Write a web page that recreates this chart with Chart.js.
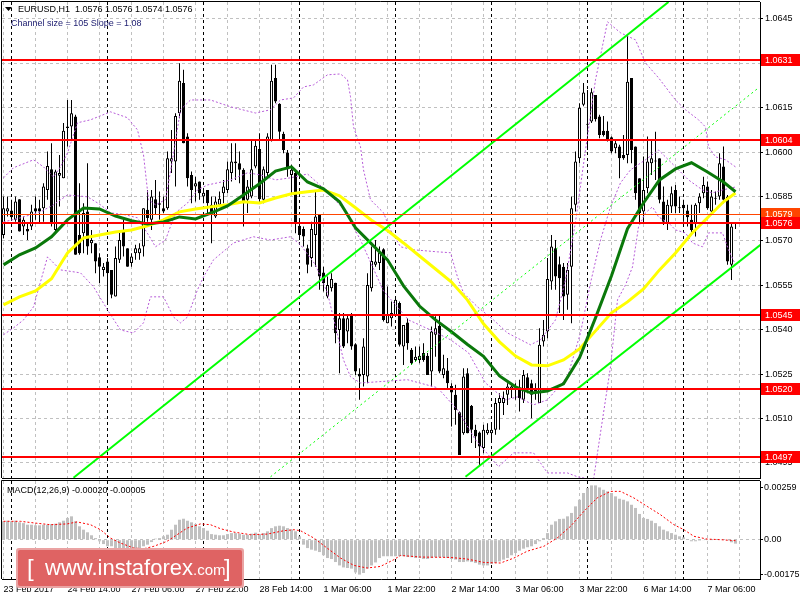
<!DOCTYPE html>
<html>
<head>
<meta charset="utf-8">
<script src="https://cdn.jsdelivr.net/npm/chart.js@4.4.1/dist/chart.umd.min.js"></script>
<style>
  html, body { margin: 0; padding: 0; background: #fff; }
  #wrap { position: relative; width: 800px; height: 600px; overflow: hidden; }
  #main { position: absolute; left: 0; top: 0; }
  #macd { position: absolute; left: 0; top: 480px; }
</style>
</head>
<body>
<div id="wrap">
  <canvas id="main" width="800" height="480"></canvas>
  <canvas id="macd" width="800" height="120"></canvas>
</div>
<script>
// EURUSD H1, 23 Feb 22:00 .. 7 Mar 09:00 (one candle per hour)
const candleOpen = [
  1.05720,1.05799,1.05803,1.05771,1.05841,1.05749,1.05740,1.05749,1.05810,1.05810,
  1.05810,1.05872,1.05942,1.05737,1.05920,1.05912,1.06081,1.06086,1.06120,1.05720,
  1.05726,1.05799,1.05692,1.05692,1.05645,1.05602,1.05630,1.05602,1.05512,1.05636,
  1.05737,1.05675,1.05625,1.05658,1.05658,1.05681,1.05805,1.05771,1.05841,1.05822,
  1.05810,1.05810,1.05968,1.05968,1.06131,1.06233,1.06053,1.05923,1.05884,1.05901,
  1.05850,1.05872,1.05822,1.05782,1.05822,1.05861,1.05872,1.05929,1.05962,1.05962,
  1.05940,1.05839,1.05850,1.05951,1.06010,1.05839,1.05929,1.06041,1.06250,1.06163,
  1.06062,1.05999,1.05923,1.05929,1.05751,1.05740,1.05675,1.05642,1.05720,1.05790,
  1.05593,1.05512,1.05540,1.05559,1.05399,1.05439,1.05394,1.05450,1.05351,1.05251,
  1.05247,1.05242,1.05540,1.05619,1.05625,1.05672,1.05422,1.05439,1.05450,1.05490,
  1.05343,1.05424,1.05332,1.05298,1.05298,1.05321,1.05312,1.05259,1.05383,1.05413,
  1.05247,1.05262,1.05210,1.05180,1.05121,1.05050,1.05253,1.05143,1.05062,1.05053,
  1.05000,1.05050,1.05050,1.05062,1.05152,1.05152,1.05180,1.05197,1.05197,1.05199,
  1.05163,1.05239,1.05219,1.05202,1.05152,1.05360,1.05394,1.05563,1.05675,1.05621,
  1.05613,1.05518,1.05613,1.05822,1.05979,1.06160,1.06092,1.06103,1.06193,1.06120,
  1.06072,1.06072,1.06050,1.06013,1.06019,1.05990,1.05990,1.06250,1.06019,1.05912,
  1.05799,1.05878,1.05962,1.05968,1.05979,1.05833,1.05760,1.05816,1.05872,1.05810,
  1.05822,1.05803,1.05771,1.05760,1.05827,1.05861,1.05884,1.05799,1.05844,1.05850,
  1.05951,1.05850,1.05619,1.05760
];
const candleHigh = [
  1.05850,1.05850,1.05839,1.05850,1.05841,1.05782,1.05758,1.05822,1.05850,1.05839,
  1.05895,1.06002,1.06030,1.05940,1.05990,1.06098,1.06176,1.06176,1.06126,1.05895,
  1.05827,1.05962,1.05737,1.05692,1.05658,1.05625,1.05642,1.05602,1.05681,1.05737,
  1.05771,1.05675,1.05658,1.05687,1.05692,1.05810,1.05872,1.05872,1.05906,1.05867,
  1.05850,1.06002,1.06075,1.06131,1.06300,1.06278,1.06064,1.05934,1.05917,1.05901,
  1.05878,1.05872,1.05850,1.05850,1.05867,1.05906,1.05968,1.06030,1.06030,1.06002,
  1.05945,1.05906,1.06041,1.06041,1.06064,1.05951,1.06064,1.06295,1.06295,1.06165,
  1.06069,1.06007,1.05957,1.05934,1.05777,1.05749,1.05687,1.05765,1.05872,1.05790,
  1.05613,1.05580,1.05591,1.05559,1.05456,1.05456,1.05450,1.05456,1.05354,1.05270,
  1.05371,1.05591,1.05681,1.05703,1.05681,1.05675,1.05546,1.05495,1.05506,1.05495,
  1.05416,1.05439,1.05338,1.05343,1.05343,1.05354,1.05321,1.05411,1.05445,1.05450,
  1.05315,1.05304,1.05219,1.05214,1.05124,1.05270,1.05270,1.05146,1.05079,1.05056,
  1.05079,1.05084,1.05084,1.05169,1.05185,1.05191,1.05219,1.05219,1.05219,1.05231,
  1.05264,1.05253,1.05231,1.05219,1.05405,1.05433,1.05642,1.05720,1.05703,1.05647,
  1.05625,1.05625,1.05850,1.06002,1.06165,1.06233,1.06210,1.06216,1.06193,1.06126,
  1.06122,1.06103,1.06053,1.06041,1.06025,1.06058,1.06396,1.06250,1.06019,1.05912,
  1.05985,1.06053,1.06041,1.06069,1.05979,1.05884,1.05839,1.05884,1.05889,1.05850,
  1.05839,1.05822,1.05822,1.05827,1.05861,1.05917,1.05901,1.05872,1.05867,1.05996,
  1.06019,1.05855,1.05760,1.05760
];
const candleLow = [
  1.05709,1.05782,1.05771,1.05765,1.05732,1.05720,1.05703,1.05737,1.05771,1.05760,
  1.05765,1.05839,1.05749,1.05726,1.05816,1.05912,1.06019,1.06041,1.05653,1.05653,
  1.05658,1.05653,1.05658,1.05591,1.05557,1.05580,1.05490,1.05506,1.05512,1.05625,
  1.05647,1.05613,1.05613,1.05636,1.05636,1.05647,1.05765,1.05737,1.05788,1.05771,
  1.05794,1.05805,1.05929,1.05884,1.06114,1.06030,1.05884,1.05827,1.05833,1.05839,
  1.05827,1.05794,1.05692,1.05777,1.05816,1.05827,1.05861,1.05901,1.05906,1.05895,
  1.05749,1.05794,1.05844,1.05945,1.05827,1.05827,1.05917,1.06036,1.06165,1.06041,
  1.05996,1.05917,1.05861,1.05726,1.05703,1.05681,1.05591,1.05613,1.05613,1.05535,
  1.05529,1.05506,1.05529,1.05354,1.05253,1.05338,1.05354,1.05332,1.05247,1.05163,
  1.05208,1.05219,1.05529,1.05613,1.05602,1.05428,1.05422,1.05411,1.05445,1.05343,
  1.05281,1.05332,1.05281,1.05292,1.05287,1.05292,1.05247,1.05208,1.05309,1.05253,
  1.05236,1.05202,1.05073,1.05079,1.04977,1.05045,1.05050,1.05017,1.05000,1.04943,
  1.04983,1.05045,1.05017,1.05045,1.05062,1.05112,1.05146,1.05169,1.05163,1.05124,
  1.05152,1.05185,1.05101,1.05163,1.05152,1.05343,1.05371,1.05535,1.05535,1.05456,
  1.05433,1.05467,1.05422,1.05799,1.05962,1.06155,1.06007,1.06098,1.06103,1.06047,
  1.06053,1.06036,1.05996,1.05996,1.05912,1.05974,1.05962,1.05962,1.05839,1.05760,
  1.05760,1.05861,1.05923,1.05906,1.05827,1.05754,1.05737,1.05794,1.05794,1.05794,
  1.05765,1.05749,1.05726,1.05715,1.05794,1.05844,1.05805,1.05788,1.05822,1.05839,
  1.05827,1.05619,1.05568,1.05740
];
const candleClose = [
  1.05810,1.05810,1.05780,1.05833,1.05732,1.05771,1.05732,1.05799,1.05799,1.05799,
  1.05884,1.05953,1.05760,1.05934,1.05929,1.06072,1.06086,1.06131,1.05653,1.05658,
  1.05794,1.05681,1.05703,1.05630,1.05613,1.05613,1.05591,1.05518,1.05642,1.05703,
  1.05681,1.05613,1.05647,1.05675,1.05675,1.05810,1.05777,1.05850,1.05810,1.05827,
  1.05799,1.05979,1.05979,1.06122,1.06241,1.06030,1.05912,1.05872,1.05895,1.05861,
  1.05863,1.05827,1.05794,1.05833,1.05842,1.05884,1.05942,1.05968,1.05968,1.05940,
  1.05827,1.05884,1.05942,1.06021,1.05841,1.05942,1.06053,1.06241,1.06171,1.06069,
  1.06007,1.05942,1.05940,1.05760,1.05720,1.05715,1.05619,1.05740,1.05782,1.05580,
  1.05557,1.05551,1.05571,1.05388,1.05439,1.05343,1.05439,1.05343,1.05259,1.05242,
  1.05343,1.05551,1.05632,1.05630,1.05661,1.05433,1.05450,1.05456,1.05501,1.05349,
  1.05416,1.05354,1.05287,1.05309,1.05312,1.05298,1.05247,1.05394,1.05405,1.05259,
  1.05270,1.05219,1.05188,1.05129,1.04977,1.05242,1.05050,1.05062,1.05039,1.05005,
  1.05062,1.05062,1.05062,1.05152,1.05169,1.05169,1.05208,1.05208,1.05202,1.05169,
  1.05247,1.05197,1.05180,1.05191,1.05349,1.05383,1.05571,1.05681,1.05580,1.05574,
  1.05512,1.05602,1.05810,1.05968,1.06150,1.06201,1.06095,1.06202,1.06111,1.06058,
  1.06058,1.06041,1.06002,1.06030,1.05979,1.05979,1.06238,1.06007,1.05861,1.05794,
  1.05872,1.05968,1.05979,1.05968,1.05839,1.05765,1.05822,1.05861,1.05816,1.05810,
  1.05810,1.05780,1.05737,1.05822,1.05850,1.05889,1.05810,1.05850,1.05842,1.05962,
  1.05839,1.05630,1.05749,1.05760
];

// moving averages, read every 4 bars
const maBars = [0,4,8,12,16,20,24,28,32,36,40,44,48,52,56,60,64,68,72,76,80,84,88,92,
  96,100,104,108,112,116,120,124,128,132,136,140,144,148,152,156,160,164,168,172,176,180,183];
const maFast = [1.05619,1.05653,1.05676,1.05714,1.05771,1.05811,1.05808,1.05784,1.05768,1.05757,
  1.05764,1.05781,1.05774,1.05795,1.05818,1.05855,1.05893,1.05936,1.05950,1.05899,1.05876,1.05832,
  1.05744,1.05690,1.05636,1.05548,1.05480,1.05433,1.05393,1.05350,1.05310,1.05244,1.05207,1.05186,
  1.05193,1.05217,1.05305,1.05440,1.05582,1.05741,1.05828,1.05906,1.05943,1.05964,1.05933,1.05899,1.05866];
const maSlow = [1.05484,1.05511,1.05531,1.05572,1.05659,1.05710,1.05720,1.05730,1.05737,1.05751,
  1.05771,1.05798,1.05808,1.05815,1.05822,1.05832,1.05828,1.05845,1.05859,1.05866,1.05872,1.05852,
  1.05812,1.05770,1.05735,1.05693,1.05649,1.05605,1.05561,1.05500,1.05420,1.05359,1.05311,1.05281,
  1.05278,1.05298,1.05335,1.05396,1.05457,1.05494,1.05538,1.05602,1.05659,1.05724,1.05778,1.05832,1.05862];

// Bollinger bands (upper / middle / lower)
const bbUpperBars = [0,2.5,7.5,10,12.5,14.25,16,18.5,21.75,26.75,31,33.5,35,36.25,38,40.5,42.25,44.25,
  46.75,51.75,56.75,63,66.75,69.25,72.5,75,77.5,79.25,81,84.25,86,86.75,87.5,89.25,90,91.75,95,96.75,
  99.25,102.5,108.5,111.75,113.5,115,118.5,122.5,126,131.75,134.25,138,140.5,143,145.5,148,151,154.25,
  158,160.5,163.75,168,170.5,173.75,175.5,176.25,178,180.5,183];
const bbUpper = [1.05913,1.05947,1.05974,1.05950,1.05916,1.05950,1.05997,1.06099,1.06109,1.06136,
  1.06116,1.06075,1.05991,1.05839,1.05822,1.05839,1.05974,1.06143,1.06176,1.06176,1.06153,1.06132,
  1.06143,1.06176,1.06183,1.06220,1.06227,1.06244,1.06261,1.06264,1.06244,1.06187,1.06085,1.06018,
  1.05940,1.05839,1.05795,1.05737,1.05680,1.05670,1.05663,1.05660,1.05578,1.05524,1.05477,1.05433,
  1.05389,1.05349,1.05366,1.05433,1.05568,1.05764,1.06007,1.06244,1.06440,1.06403,1.06379,1.06301,
  1.06251,1.06176,1.06143,1.06109,1.06085,1.06018,1.05984,1.05974,1.05950];
const bbMidBars = [0,4.25,9.25,12.5,16,21,24.25,26.75,30.5,33.5,36.25,38,40.5,43,46,48.5,51,53.5,56.75,
  61,64.25,68,71.75,76,80.5,85,89.25,95,101.25,106.75,111.75,116.25,120.5,125.5,128.5,132.5,136,141,
  144.25,146.75,149.25,151.75,154.25,156.75,160.5,163.75,168,171.25,174.75,177.25,179.75,183];
const bbMid = [1.05764,1.05778,1.05798,1.05822,1.05855,1.05849,1.05822,1.05795,1.05788,1.05778,
  1.05720,1.05680,1.05703,1.05795,1.05828,1.05872,1.05889,1.05896,1.05906,1.05930,1.05923,1.05906,
  1.05913,1.05926,1.05872,1.05808,1.05703,1.05531,1.05433,1.05399,1.05366,1.05322,1.05220,1.05163,
  1.05173,1.05146,1.05163,1.05241,1.05389,1.05558,1.05703,1.05815,1.05896,1.05940,1.05974,1.06007,
  1.05950,1.05906,1.05872,1.05862,1.05872,1.05882];
const bbLowBars = [0,2.5,5,7.5,11,14.25,19.25,22.5,26,29.25,32.5,35,36.75,40,42.5,44.25,46,48.5,50,52.5,
  57.5,62.5,66.75,71.75,74.25,78,81,85,86.75,89.25,93.5,101,108.5,113.5,118,123.75,127.5,132.5,136,141,
  143.5,147.5,149.25,151.75,153.5,155.5,157.25,158.75,160.5,162.25,163.75,166.25,168,170.5,172.25,
  174.75,176.25,179.75,181.25,183];
const bbLow = [1.05383,1.05406,1.05433,1.05477,1.05646,1.05602,1.05592,1.05545,1.05467,1.05399,
  1.05389,1.05423,1.05511,1.05511,1.05443,1.05423,1.05443,1.05535,1.05578,1.05636,1.05693,1.05714,
  1.05703,1.05714,1.05687,1.05619,1.05524,1.05298,1.05241,1.05220,1.05224,1.05231,1.05204,1.05129,
  1.05028,1.04937,1.04984,1.04984,1.04916,1.04916,1.04903,1.04893,1.05052,1.05274,1.05501,1.05551,
  1.05612,1.05747,1.05795,1.05815,1.05781,1.05761,1.05737,1.05727,1.05693,1.05680,1.05727,1.05727,
  1.05670,1.05619];

// regression channel end points [bar, price]
const channelUpper = [[17.5, 1.04900], [166.25, 1.06507]];
const channelMid = [[66.75, 1.04903], [188.75, 1.06217]];
const channelLower = [[115.5, 1.04903], [189.25, 1.05687]];

// horizontal levels
const redLevels = [1.0631, 1.0604, 1.0576, 1.0545, 1.0520, 1.0497];
const orangeLevel = 1.0579;

// MACD(12,26,9)
const macdHist = [
  0.00092,0.00095,0.00092,0.00095,0.00087,0.00083,0.00075,0.00075,0.00072,0.00072,
  0.00075,0.00075,0.00078,0.00080,0.00087,0.00095,0.00109,0.00117,0.00092,0.00067,
  0.00050,0.00037,0.00022,0.00008,-0.00008,-0.00022,-0.00033,-0.00033,-0.00042,-0.00042,
  -0.00042,-0.00045,-0.00045,-0.00045,-0.00045,-0.00033,-0.00025,-0.00012,0.00005,0.00008,
  0.00017,0.00025,0.00050,0.00075,0.00100,0.00105,0.00095,0.00087,0.00078,0.00067,
  0.00058,0.00045,0.00028,0.00025,0.00022,0.00022,0.00028,0.00033,0.00033,0.00030,
  0.00025,0.00025,0.00030,0.00035,0.00028,0.00033,0.00042,0.00058,0.00067,0.00070,
  0.00067,0.00058,0.00050,0.00042,0.00017,-0.00025,-0.00042,-0.00050,-0.00055,-0.00062,
  -0.00078,-0.00092,-0.00097,-0.00112,-0.00129,-0.00139,-0.00142,-0.00145,-0.00164,-0.00175,
  -0.00167,-0.00145,-0.00129,-0.00114,-0.00092,-0.00083,-0.00083,-0.00083,-0.00083,-0.00083,
  -0.00083,-0.00087,-0.00088,-0.00092,-0.00092,-0.00097,-0.00097,-0.00092,-0.00088,-0.00088,
  -0.00088,-0.00092,-0.00097,-0.00100,-0.00112,-0.00112,-0.00109,-0.00112,-0.00117,-0.00125,
  -0.00129,-0.00129,-0.00122,-0.00117,-0.00109,-0.00100,-0.00092,-0.00078,-0.00067,-0.00055,
  -0.00045,-0.00038,-0.00033,-0.00022,-0.00008,0.00008,0.00033,0.00075,0.00092,0.00104,
  0.00105,0.00117,0.00134,0.00167,0.00200,0.00234,0.00259,0.00272,0.00272,0.00262,
  0.00250,0.00242,0.00234,0.00217,0.00205,0.00200,0.00192,0.00175,0.00159,0.00129,
  0.00109,0.00104,0.00095,0.00083,0.00067,0.00050,0.00042,0.00033,0.00025,0.00017,
  0.00012,0.00000,-0.00008,-0.00008,-0.00005,-0.00002,-0.00003,-0.00002,0.00003,0.00003,
  0.00000,-0.00005,-0.00013,-0.00020
];
const signalBars = [0,4.25,7.6,11.75,15.9,18.4,21.75,24.25,26.75,29.25,32.6,35.1,37.6,40.9,43.4,
  45.9,49.25,51.75,54.25,57.6,61.75,65.9,70.1,72.6,74.25,77.6,80.9,84.25,87.6,90.9,94.25,97.6,99.25,
  104.25,111.75,115.9,120.1,124.25,127.6,130.9,135.1,138.4,141.75,145.1,148.4,151.75,154.25,157.6,
  160.9,164.25,167.6,170.1,172.6,175.9,179.25,183];
const signalVals = [0.00092,0.00092,0.00084,0.00075,0.00079,0.00089,0.00075,0.00050,0.00008,-0.00017,
  -0.00042,-0.00045,-0.00033,-0.00008,0.00025,0.00058,0.00079,0.00075,0.00055,0.00038,0.00025,0.00028,
  0.00045,0.00050,0.00045,0.00008,-0.00042,-0.00092,-0.00129,-0.00142,-0.00134,-0.00100,-0.00079,
  -0.00087,-0.00089,-0.00097,-0.00114,-0.00117,-0.00092,-0.00058,-0.00033,0.00008,0.00067,0.00142,
  0.00209,0.00242,0.00242,0.00209,0.00167,0.00125,0.00075,0.00050,0.00017,0.00003,0.00000,-0.00005];

// axes
const timeLabels = ['23 Feb 2017','24 Feb 14:00','27 Feb 06:00','27 Feb 22:00','28 Feb 14:00',
  '1 Mar 06:00','1 Mar 22:00','2 Mar 14:00','3 Mar 06:00','3 Mar 22:00','6 Mar 14:00','7 Mar 06:00'];
const priceTicks = [1.0495,1.0510,1.0525,1.0540,1.0555,1.0570,1.0585,1.0600,1.0615,1.0630,1.0645];
const macdTicks = [0.00259, 0, -0.00175];
const dayBreaks = [2, 26, 50, 74, 98, 122, 146, 170];

const xMin = -0.375, xMax = 189.125;
const priceMin = 1.04899, priceMax = 1.06507;
const macdMin = -0.00197, macdMax = 0.00294;

const FONT = "'Liberation Sans', Arial, sans-serif";
Chart.defaults.font.family = FONT;
Chart.defaults.font.size = 9;
Chart.defaults.color = '#000';
Chart.defaults.animation = false;

const gridBars = [];
for (let b = 0; b <= 184; b += 8) gridBars.push(b);

const idx = candleOpen.map((_, i) => i);
const pts = (xs, ys) => xs.map((x, i) => ({x: x, y: ys[i]}));
const pairPts = arr => arr.map(p => ({x: p[0], y: p[1]}));

// keep the plot area where the layout padding puts it
const noPad = s => { s.paddingTop = 0; s.paddingBottom = 0; s.paddingLeft = 0; s.paddingRight = 0; };

function lineSet(data, color, width, dash, order) {
  return {
    type: 'line', data: data, borderColor: color, borderWidth: width,
    borderDash: dash || [], pointRadius: 0, tension: 0, fill: false, order: order
  };
}

function drawSeparators(chart) {
  const {ctx, chartArea: a, scales: {x}} = chart;
  ctx.save();
  ctx.strokeStyle = '#000';
  ctx.lineWidth = 1;
  ctx.setLineDash([3, 3]);
  dayBreaks.forEach(b => {
    const px = Math.floor(x.getPixelForValue(b)) + 0.5;
    ctx.beginPath();
    ctx.moveTo(px, a.top);
    ctx.lineTo(px, a.bottom);
    ctx.stroke();
  });
  ctx.restore();
}

function drawFrame(chart) {
  const {ctx, chartArea: a} = chart;
  ctx.save();
  ctx.strokeStyle = '#000';
  ctx.lineWidth = 1;
  ctx.beginPath();
  ctx.moveTo(a.left - 0.5, a.bottom);
  ctx.lineTo(a.left - 0.5, a.top - 0.5);
  ctx.lineTo(a.right, a.top - 0.5);
  ctx.stroke();
  ctx.restore();
}

const mainDecor = {
  id: 'mainDecor',
  beforeDatasetsDraw(chart) {
    drawSeparators(chart);
  },
  afterDatasetsDraw(chart) {
    const {ctx, chartArea: a, scales: {y}} = chart;
    ctx.save();
    ctx.fillStyle = '#ff4500';
    ctx.fillRect(a.left, Math.round(y.getPixelForValue(orangeLevel)), a.width, 1);
    ctx.fillStyle = '#ff0000';
    redLevels.forEach(v => {
      ctx.fillRect(a.left, Math.round(y.getPixelForValue(v)) - 1, a.width, 2);
    });
    ctx.restore();
  },
  afterDraw(chart) {
    const {ctx, chartArea: a, scales: {y}} = chart;
    drawFrame(chart);
    ctx.save();
    // price labels on the right axis
    ctx.font = '9px ' + FONT;
    ctx.textBaseline = 'middle';
    const box = (v, color) => {
      const py = Math.round(y.getPixelForValue(v));
      ctx.fillStyle = color;
      ctx.fillRect(a.right + 1, py - 6, 39, 12);
      ctx.fillStyle = '#fff';
      ctx.fillText(v.toFixed(4), a.right + 5, py + 0.5);
    };
    box(orangeLevel, '#ff4500');
    redLevels.forEach(v => box(v, '#ff0000'));

    // header
    ctx.fillStyle = '#000';
    ctx.beginPath();
    ctx.moveTo(5, 7); ctx.lineTo(12, 7); ctx.lineTo(8.5, 11); ctx.closePath();
    ctx.fill();
    ctx.fillText('EURUSD,H1  1.0576 1.0576 1.0574 1.0576', 18, 10);
    ctx.fillStyle = '#1a1a6e';
    ctx.fillText('Channel size = 105 Slope = 1.08', 11, 24);
    ctx.restore();
  }
};

new Chart(document.getElementById('main'), {
  type: 'bar',
  data: {
    datasets: [
      lineSet(pts(maBars, maFast), '#0a780a', 3, [], 2),
      lineSet(pts(maBars, maSlow), '#ffff00', 3, [], 3),
      lineSet(pts(bbUpperBars, bbUpper), '#b65ad8', 1, [2, 2], 4),
      lineSet(pts(bbMidBars, bbMid), '#b65ad8', 1, [2, 2], 4),
      lineSet(pts(bbLowBars, bbLow), '#b65ad8', 1, [2, 2], 4),
      lineSet(pairPts(channelUpper), '#00ff00', 2, [], 1),
      lineSet(pairPts(channelMid), '#00ff00', 1, [2, 3], 1),
      lineSet(pairPts(channelLower), '#00ff00', 2, [], 1),
      {
        type: 'bar',
        data: idx.map(i => ({x: i, y: [candleLow[i], candleHigh[i]]})),
        backgroundColor: '#000', borderWidth: 0, barThickness: 1,
        grouped: false, inflateAmount: 0, minBarLength: 1, order: 11
      },
      {
        type: 'bar',
        data: idx.map(i => ({x: i, y: [candleOpen[i], candleClose[i]]})),
        backgroundColor: idx.map(i => candleClose[i] >= candleOpen[i] ? '#ffffff' : '#000000'),
        borderColor: '#000', borderWidth: 1, borderSkipped: false, barThickness: 3,
        grouped: false, inflateAmount: 0, minBarLength: 1, order: 10
      }
    ]
  },
  options: {
    responsive: false,
    events: [],
    layout: { padding: { top: 2, bottom: 2, left: 2, right: 0 } },
    plugins: { legend: { display: false }, tooltip: { enabled: false } },
    scales: {
      x: {
        type: 'linear', min: xMin, max: xMax, offset: false,
        afterBuildTicks: s => { s.ticks = gridBars.map(v => ({value: v})); },
        afterFit: s => { s.height = 0; noPad(s); },
        ticks: { display: false },
        grid: { color: '#c0c0c0', drawTicks: false, offset: false },
        border: { color: '#000', dash: [3, 3] }
      },
      y: {
        position: 'right', min: priceMin, max: priceMax, beginAtZero: false,
        afterBuildTicks: s => { s.ticks = priceTicks.map(v => ({value: v})); },
        afterFit: s => { s.width = 40; noPad(s); },
        ticks: { callback: v => v.toFixed(4), padding: 2, autoSkip: false },
        grid: { color: '#c0c0c0', tickColor: '#000', tickLength: 3, tickBorderDash: [] },
        border: { color: '#000', dash: [3, 3] }
      }
    }
  },
  plugins: [mainDecor]
});

const macdDecor = {
  id: 'macdDecor',
  beforeDatasetsDraw(chart) {
    drawSeparators(chart);
  },
  afterDraw(chart) {
    const {ctx} = chart;
    drawFrame(chart);
    ctx.save();
    ctx.font = '9px ' + FONT;
    ctx.textBaseline = 'middle';
    ctx.fillStyle = '#000';
    ctx.fillText('MACD(12,26,9) -0.00020 -0.00005', 7, 11);

    // watermark
    ctx.fillStyle = '#eaa3a3';
    ctx.beginPath();
    ctx.roundRect(16, 68, 228, 40, 3);
    ctx.fill();
    ctx.fillStyle = '#df6363';
    ctx.beginPath();
    ctx.roundRect(18, 70, 224, 36, 2);
    ctx.fill();
    ctx.fillStyle = '#fff';
    ctx.textBaseline = 'alphabetic';
    ctx.font = '24px ' + FONT;
    ctx.fillText('[', 27, 96);
    ctx.fillText(']', 224, 96);
    ctx.font = '22px ' + FONT;
    ctx.fillText('www.instaforex', 45, 95);
    ctx.font = '15px ' + FONT;
    ctx.fillText('.com', 193, 95);
    ctx.restore();
  }
};

new Chart(document.getElementById('macd'), {
  type: 'bar',
  data: {
    datasets: [
      lineSet(pts(signalBars, signalVals), '#ff0000', 1, [2, 2], 1),
      {
        type: 'bar',
        data: idx.map(i => ({x: i, y: macdHist[i]})),
        backgroundColor: '#c0c0c0', borderWidth: 0, barThickness: 3,
        grouped: false, inflateAmount: 0, order: 5
      }
    ]
  },
  options: {
    responsive: false,
    events: [],
    layout: { padding: { top: 1, bottom: 0, left: 2, right: 0 } },
    plugins: { legend: { display: false }, tooltip: { enabled: false } },
    scales: {
      x: {
        type: 'linear', min: xMin, max: xMax, offset: false,
        afterBuildTicks: s => { s.ticks = gridBars.map(v => ({value: v})); },
        afterFit: s => { s.height = 21; noPad(s); },
        ticks: {
          autoSkip: false, maxRotation: 0, align: 'start', padding: 5,
          callback: v => (v % 16 === 0 && timeLabels[v / 16]) ? timeLabels[v / 16] : ''
        },
        grid: { color: '#c0c0c0', drawTicks: false, offset: false },
        border: { color: '#000', dash: [3, 3] }
      },
      y: {
        position: 'right', min: macdMin, max: macdMax, beginAtZero: false,
        afterBuildTicks: s => { s.ticks = macdTicks.map(v => ({value: v})); },
        afterFit: s => { s.width = 40; noPad(s); },
        ticks: { callback: v => v === 0 ? '0.00' : v.toFixed(5), padding: 1, autoSkip: false },
        grid: {
          color: c => (c.tick && c.tick.value === 0) ? '#c0c0c0' : 'rgba(0,0,0,0)',
          tickColor: '#000', tickLength: 3, tickBorderDash: []
        },
        border: { color: '#000', dash: [3, 3] }
      }
    }
  },
  plugins: [macdDecor]
});
</script>
</body>
</html>
